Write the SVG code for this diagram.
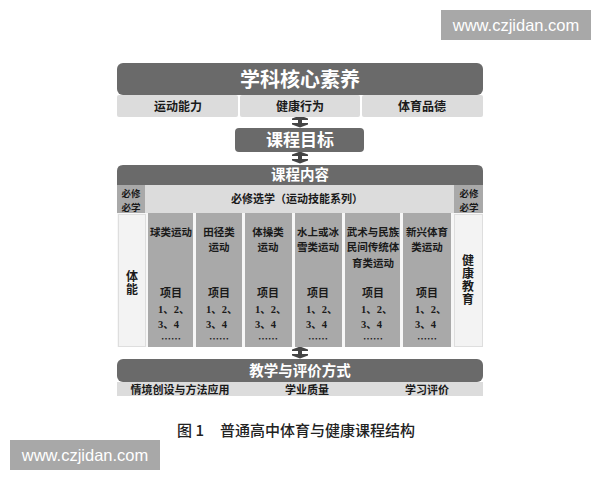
<svg xmlns="http://www.w3.org/2000/svg" width="600" height="480" viewBox="0 0 600 480">
<style>
.dark{fill:#6a6a6a}
.light{fill:#dcdcdc}
.mid{fill:#a9a9a9}
.pale{fill:#f3f3f3;stroke:#dedede;stroke-width:1}
.t{font-family:"Noto Sans CJK SC",sans-serif;font-weight:bold;fill:#1a1a1a;text-anchor:middle}
.w{font-family:"Noto Sans CJK SC",sans-serif;font-weight:bold;fill:#ffffff;text-anchor:middle}
.v{font-family:"Noto Sans CJK SC",sans-serif;font-weight:bold;fill:#1a1a1a;font-size:12px;writing-mode:vertical-rl;text-anchor:middle;letter-spacing:1px}
.h{font-family:"Noto Sans CJK SC",sans-serif;font-weight:bold;fill:#1a1a1a;font-size:10.5px;text-anchor:middle}
.p{font-family:"Noto Sans CJK SC",sans-serif;font-weight:bold;fill:#1a1a1a;font-size:11px;text-anchor:middle}
.n{font-family:"Liberation Serif","Noto Sans CJK SC",serif;font-weight:bold;fill:#1a1a1a;font-size:10.5px}
.d{font-family:"Noto Sans CJK SC",sans-serif;font-weight:bold;fill:#1a1a1a;font-size:10px;text-anchor:middle}
.wm{font-family:"Liberation Sans",Arial,sans-serif;fill:#ffffff;font-size:16.5px;text-anchor:middle}
.cap{font-family:"Noto Sans CJK SC",sans-serif;font-weight:500;fill:#222;font-size:15px}
</style>
<defs>
<path id="arr" d="M-8,2.5 L0,-0.5 L8,2.5 L8,4 L2,4 L2,7 L8,7 L8,8.5 L0,11.5 L-8,8.5 L-8,7 L-2,7 L-2,4 L-8,4 Z" fill="#444"/>
</defs>
<rect width="600" height="480" fill="#ffffff"/>

<g id="watermark-top">
<rect x="441" y="10" width="150" height="30" fill="#a8a8a8"/>
<text class="wm" x="516" y="31">www.czjidan.com</text>
</g>

<g id="connectors">
<use href="#arr" x="300" y="116"/>
<use href="#arr" x="300" y="152"/>
<use href="#arr" x="300" y="347"/>
</g>

<g id="core">
<rect class="dark" x="117" y="63" width="366" height="32" rx="6"/>
<text class="w" x="300" y="87" font-size="20">学科核心素养</text>
<rect class="light" x="117" y="95" width="121" height="22" rx="2"/>
<rect class="light" x="240" y="95" width="120" height="22" rx="2"/>
<rect class="light" x="362" y="95" width="121" height="22" rx="2"/>
<text class="t" x="178" y="111" font-size="12">运动能力</text>
<text class="t" x="300" y="111" font-size="12">健康行为</text>
<text class="t" x="422" y="111" font-size="12">体育品德</text>
</g>

<g id="goal">
<rect class="dark" x="235" y="128" width="129" height="24" rx="4"/>
<text class="w" x="300" y="146" font-size="17">课程目标</text>
</g>

<g id="content">
<path class="dark" d="M117,185 L117,171 Q117,165 123,165 L477,165 Q483,165 483,171 L483,185 Z"/>
<text class="w" x="300" y="180" font-size="14.5">课程内容</text>
<rect x="117" y="185" width="366" height="162" fill="#f7f7f7"/>
<rect class="mid" x="117" y="185" width="28" height="28"/>
<text class="t" x="131" y="197" font-size="9.5">必修<tspan x="131" dy="13.9">必学</tspan></text>
<rect class="light" x="145" y="185" width="309" height="28"/>
<text class="t" x="297" y="203" font-size="11">必修选学（运动技能系列）</text>
<rect class="mid" x="454" y="185" width="29" height="28"/>
<text class="t" x="469" y="197" font-size="9.5">必修<tspan x="469" dy="13.9">必学</tspan></text>
</g>

<g id="fitness">
<rect class="pale" x="118.5" y="214.5" width="27" height="132"/>
<text class="v" x="132" y="283.5">体能</text>
</g>

<g id="health">
<rect class="pale" x="454.5" y="214.5" width="28" height="132"/>
<text class="v" x="468" y="280">健康教育</text>
</g>

<g id="col-ball">
<rect class="mid" x="148" y="213" width="45" height="134"/>
<text class="h" x="171" y="236">球类运动</text>
<text class="p" x="171" y="297">项目</text>
<text class="n" x="158" y="312.5">1、2、<tspan x="158" dy="15.3">3、4</tspan></text>
<text class="d" x="171" y="342.5">……</text>
</g>

<g id="col-track">
<rect class="mid" x="196" y="213" width="46" height="134"/>
<text class="h" x="219" y="236">田径类<tspan x="219" dy="15.3">运动</tspan></text>
<text class="p" x="219" y="297">项目</text>
<text class="n" x="206" y="312.5">1、2、<tspan x="206" dy="15.3">3、4</tspan></text>
<text class="d" x="219" y="342.5">……</text>
</g>

<g id="col-gym">
<rect class="mid" x="245" y="213" width="47" height="134"/>
<text class="h" x="268" y="236">体操类<tspan x="268" dy="15.3">运动</tspan></text>
<text class="p" x="268" y="297">项目</text>
<text class="n" x="255" y="312.5">1、2、<tspan x="255" dy="15.3">3、4</tspan></text>
<text class="d" x="268" y="342.5">……</text>
</g>

<g id="col-water">
<rect class="mid" x="295" y="213" width="47" height="134"/>
<text class="h" x="318" y="236">水上或冰<tspan x="318" dy="15.3">雪类运动</tspan></text>
<text class="p" x="318" y="297">项目</text>
<text class="n" x="306" y="312.5">1、2、<tspan x="306" dy="15.3">3、4</tspan></text>
<text class="d" x="318" y="342.5">……</text>
</g>

<g id="col-wushu">
<rect class="mid" x="345" y="213" width="55" height="134"/>
<text class="h" x="373" y="236">武术与民族<tspan x="373" dy="15.3">民间传统体</tspan><tspan x="373" dy="15.3">育类运动</tspan></text>
<text class="p" x="373" y="297">项目</text>
<text class="n" x="361" y="312.5">1、2、<tspan x="361" dy="15.3">3、4</tspan></text>
<text class="d" x="373" y="342.5">……</text>
</g>

<g id="col-new">
<rect class="mid" x="403" y="213" width="48" height="134"/>
<text class="h" x="427" y="236">新兴体育<tspan x="427" dy="15.3">类运动</tspan></text>
<text class="p" x="427" y="297">项目</text>
<text class="n" x="415" y="312.5">1、2、<tspan x="415" dy="15.3">3、4</tspan></text>
<text class="d" x="427" y="342.5">……</text>
</g>

<g id="teaching">
<rect class="dark" x="117" y="359" width="366" height="23" rx="6"/>
<text class="w" x="300" y="376" font-size="14.5">教学与评价方式</text>
<rect class="light" x="117" y="382" width="366" height="14"/>
<text class="t" x="180" y="393.5" font-size="11">情境创设与方法应用</text>
<text class="t" x="307" y="393.5" font-size="11">学业质量</text>
<text class="t" x="427" y="393.5" font-size="11">学习评价</text>
</g>

<g id="caption">
<text class="cap" x="177" y="436">图 1</text>
<text class="cap" x="220" y="436">普通高中体育与健康课程结构</text>
</g>

<g id="watermark-bottom">
<rect x="10" y="440" width="150" height="30" fill="#a8a8a8"/>
<text class="wm" x="85" y="461">www.czjidan.com</text>
</g>
</svg>
